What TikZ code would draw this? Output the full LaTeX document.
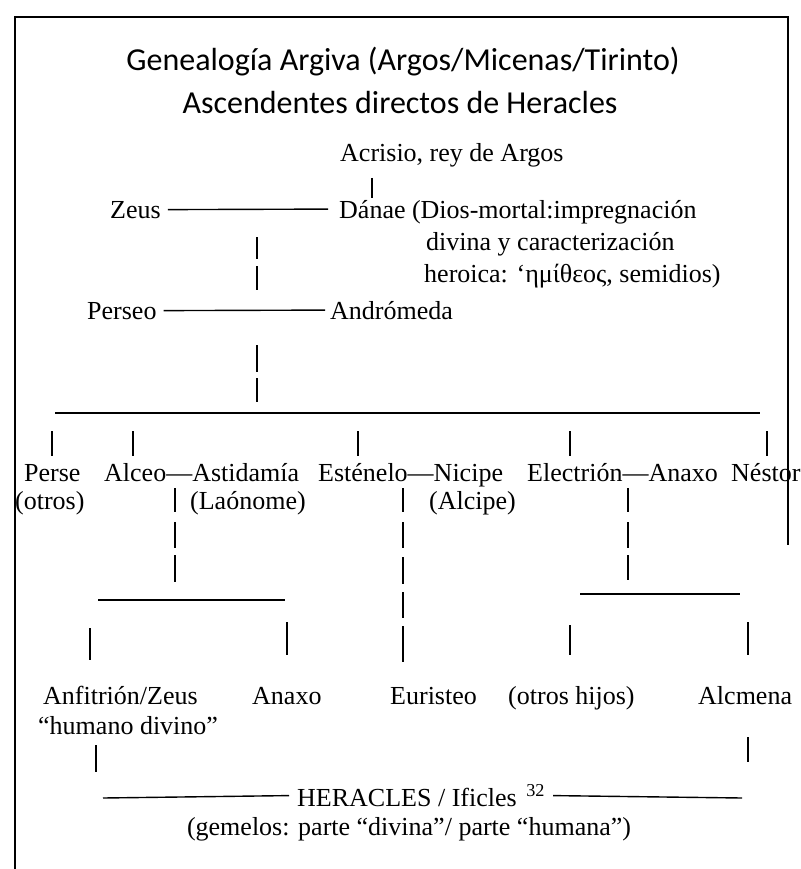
\documentclass[tikz,border=0pt]{standalone}
\usepackage{fontspec}
\setmainfont{Liberation Serif}
\newfontfamily\titlefont{Carlito}
\begin{document}
\begin{tikzpicture}[x=1pt,y=-1pt,
  txt/.style={font=\fontsize{26}{30}\selectfont, inner sep=0pt, anchor=base west},
  ttl/.style={font=\titlefont\fontsize{32}{36}\selectfont, inner sep=0pt},
  bar/.style={line width=1.4pt},
  tick/.style={line width=1.1pt},
  frame/.style={line width=1.2pt}]
\useasboundingbox[fill=white] (0,0) rectangle (800,869);
% frame
\coordinate (fbl) at (15,869);
\coordinate (ftl) at (15,17);
\coordinate (ftr) at (788,17);
\coordinate (fbr) at (788,545);
\draw[frame] (fbl) -- (ftl) -- (ftr) -- (fbr);
% titles
\node[ttl] (t1) at (403,62) {Genealogía Argiva (Argos/Micenas/Tirinto)};
\node[ttl] (t2) at (400,103) {Ascendentes directos de Heracles};
% generation 1
\node[txt] (acrisio) at (340,162) {Acrisio, rey de Argos};
\node[txt] (zeus) at (110,218) {Zeus};
\node[txt] (danae) at (339,218) {Dánae};
\node[txt] (dn1) at ([xshift=6pt]danae.base east) {(Dios-mortal:impregnación};
\node[txt] (dn2) at (426,250) {divina y caracterización};
\node[txt] (dn3) at (424,282) {heroica: ‘ημίθεος, semidios)};
\draw[tick] (372,178) -- (372,198);
\draw[bar] ([xshift=7pt]zeus.east) -- ([xshift=-11pt]danae.west);
\foreach \a/\b in {237/259, 266/290} \draw[tick] (257,\a) -- (257,\b);
% generation 2
\node[txt] (perseo) at (87,319) {Perseo};
\node[txt] (andromeda) at (330,319) {Andrómeda};
\draw[bar] ([xshift=7pt]perseo.east) -- ([xshift=-5pt]andromeda.west);
\foreach \a/\b in {345/372, 378/402} \draw[tick] (257,\a) -- (257,\b);
% children of Perseo
\coordinate (bl) at (55,413);
\coordinate (br) at (760,413);
\draw[bar] (bl) -- (br);
\foreach \x in {52,133,358,570,767} \draw[tick] (\x,431) -- (\x,456);
\node[txt] (perse) at (24,481) {Perse};
\node[txt] (alceo) at (104,481) {Alceo—Astidamía};
\node[txt] (estenelo) at (318,481) {Esténelo—Nicipe};
\node[txt] (electrion) at (527,481) {Electrión—Anaxo};
\node[txt] (nestor) at (731,481) {Néstor};
\node[txt] (otros) at (15,509) {(otros)};
\node[txt] (laonome) at (190,509) {(Laónome)};
\node[txt] (alcipe) at (429,509) {(Alcipe)};
% descents
\foreach \a/\b in {488/512, 522/548, 555/582} \draw[tick] (175,\a) -- (175,\b);
\foreach \a/\b in {488/512, 522/548, 557/584, 592/618, 626/662} \draw[tick] (403,\a) -- (403,\b);
\foreach \a/\b in {488/512, 522/548, 555/580} \draw[tick] (628,\a) -- (628,\b);
\draw[bar] (98,600) -- (285,600);
\draw[bar] (580,594) -- (740,594);
\draw[tick] (90,628) -- (90,660);
\draw[tick] (287,622) -- (287,655);
\draw[tick] (570,625) -- (570,655);
\draw[tick] (748,622) -- (748,655);
% generation 4
\node[txt] (anfitrion) at (43,704) {Anfitrión/Zeus};
\node[txt] (anaxo) at (252,704) {Anaxo};
\node[txt] (euristeo) at (390,704) {Euristeo};
\node[txt] (otroshijos) at (508,704) {(otros hijos)};
\node[txt] (alcmena) at (698,704) {Alcmena};
\node[txt] (humano) at (38,734) {“humano divino”};
\draw[tick] (96,745) -- (96,772);
\draw[tick] (748,737) -- (748,762);
% Heracles
\node[txt] (heracles) at (297,806) {HERACLES / Ificles \textsuperscript{\,32}};
\draw[bar] (103,798) -- ([xshift=-8pt]heracles.west);
\draw[bar] ([xshift=8pt]heracles.east) -- (742,798);
\node[txt, anchor=base] (gemelos) at (409,835) {(gemelos: parte “divina”/ parte “humana”)};
\end{tikzpicture}
\end{document}
